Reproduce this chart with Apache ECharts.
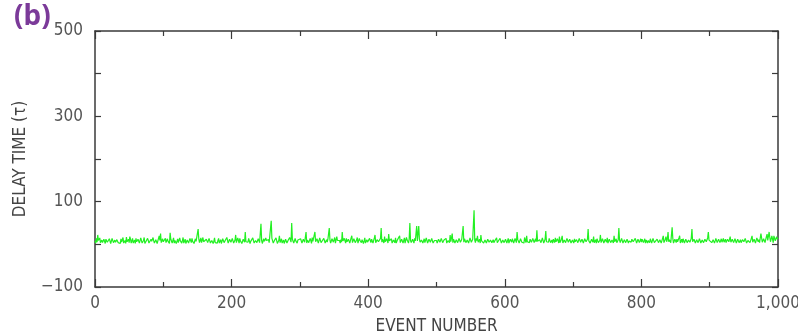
<!DOCTYPE html>
<html>
<head>
<meta charset="utf-8">
<script src="https://cdn.jsdelivr.net/npm/echarts@6/dist/echarts.min.js"></script>
<style>
  html, body { margin: 0; padding: 0; background: #fff; }
  #chart { width: 798px; height: 336px; }
</style>
</head>
<body>
<div id="chart"></div>
<script>
// Delay time for each event, events 0..1000 (one row per hundred events)
const delayTimes = [
  8,3,14,5,22,9,6,15,4,2,10,4,3,12,7,2,12,16,5,3, 4,13,9,2,6,14,15,4,3,10,5,2,11,14,4,6,8,2,13,5, 6,16,3,5,9,2,17,6,5,12,4,18,12,3,7,14,3,4,10,2, 14,6,5,12,8,3,4,15,11,3,6,9,16,2,3,8,7,14,9,3, 5,2,12,7,4,16,8,3,6,11,10,2,3,14,20,9,25,4,7,13,
  6,2,9,14,4,3,13,7,8,2,27,12,10,3,5,15,3,9,11,2, 7,13,4,2,15,8,6,3,9,16,3,5,12,2,5,10,8,3,4,14, 10,4,14,7,6,2,3,13,7,5,11,36,12,4,9,15,4,2,16,6, 8,3,3,12,10,4,6,14,13,3,5,9,11,2,7,15,4,6,7,3, 9,14,3,5,11,2,6,13,14,4,5,10,8,16,18,3,4,12,10,5,
  5,14,12,3,7,10,22,4,4,15,9,3,14,8,6,2,3,12,11,5, 29,6,8,3,5,14,13,2,7,10,4,15,16,3,6,9,10,4,3,13, 12,4,5,48,9,2,4,13,7,3,15,9,5,12,11,4,6,2,55,14, 14,3,4,10,8,15,12,2,5,9,20,4,7,13,3,6,10,2,6,12, 13,3,4,10,9,16,18,5,50,12,11,3,5,14,8,4,3,10,12,6,
  6,13,10,3,4,12,14,5,8,29,3,10,12,4,5,14,9,2,16,7, 4,11,29,6,7,13,11,3,6,15,13,4,3,9,8,14,15,3,5,11, 5,12,14,38,10,3,4,13,12,5,7,16,3,4,18,9,6,12,9,3, 11,5,29,8,5,14,8,3,14,6,4,12,10,3,6,15,20,4,3,13, 12,4,7,10,16,3,5,14,9,6,4,11,13,2,8,15,3,6,11,5,
  7,3,14,9,4,12,10,3,6,15,22,4,3,11,12,6,8,3,14,38, 5,12,11,3,18,6,4,13,9,3,24,8,6,12,13,3,3,10,10,4, 15,3,5,11,8,13,20,4,4,12,12,3,7,15,3,6,16,10,6,3, 13,50,9,4,4,12,11,3,14,8,9,43,8,5,43,12,5,3,10,14, 3,8,13,4,6,15,9,3,4,12,15,5,7,14,11,3,3,9,8,12,
  9,3,4,12,12,5,6,14,17,4,3,10,8,13,14,3,5,9,11,4, 22,6,7,25,4,12,13,3,6,11,10,4,3,14,15,5,8,12,12,43, 5,13,12,4,6,10,9,3,4,15,16,5,7,12,11,80,10,4,14,9, 20,5,6,12,3,22,8,4,11,3,4,10,7,3,3,12,9,5,5,10, 13,4,6,11,4,3,10,12,15,4,3,9,8,14,12,3,5,10,7,4,
  4,12,10,3,6,14,3,5,12,8,5,13,11,3,5,14,9,4,29,11, 7,3,4,13,13,5,9,2,3,16,16,4,20,6,10,3,4,12,12,5, 8,14,15,4,5,13,6,33,7,3,3,11,11,4,6,15,18,3,4,12, 31,6,9,3,5,14,13,4,7,10,3,12,10,4,15,6,4,13,8,3, 18,4,6,12,20,3,5,10,9,4,3,14,14,5,7,12,11,3,4,10,
  8,3,13,6,5,11,10,4,3,14,16,5,7,12,11,3,4,13,14,6, 6,12,36,8,9,3,4,12,12,5,18,4,7,11,3,13,10,4,3,9, 22,4,6,13,11,3,4,12,8,5,15,3,5,12,12,4,3,10,9,3, 20,6,7,13,4,3,10,38,10,4,6,14,13,3,3,11,11,4,5,12, 16,3,8,12,4,5,12,10,6,3,9,14,14,3,3,12,10,4,7,13,
  5,12,12,4,7,13,3,10,14,3,9,5,4,13,11,3,6,14,16,4, 8,3,3,12,13,4,5,11,10,3,7,14,20,4,4,12,18,6,12,29, 6,11,10,4,5,40,14,3,3,12,9,4,12,6,6,15,20,3,4,12, 4,13,11,3,7,12,15,4,3,10,10,5,8,14,36,6,5,12,13,3, 6,11,9,4,4,13,17,3,7,10,11,4,3,12,14,6,8,15,29,10,
  6,13,13,4,4,11,10,3,8,14,15,4,3,12,11,4,7,13,5,3, 14,5,9,12,4,3,12,10,6,4,18,5,3,12,10,4,7,13,13,3, 5,12,16,4,8,11,4,3,11,13,6,4,14,10,3,5,9,13,12,4, 7,14,20,5,5,12,10,3,4,15,15,6,11,4,8,25,22,5,6,13, 13,4,5,18,24,9,9,29,16,6,7,20,12,4,20,22,8,5,18,12,
  15
];
const xTickLabels = ['0', '200', '400', '600', '800', '1,000'];
const yLabelValues = [-100, 100, 300, 500];

// event number = position in the list
const seriesData = delayTimes.map((v, i) => [i, v]);

const tickFont = "'Liberation Sans Narrow', 'DejaVu Sans Condensed', 'Roboto', sans-serif";
const axisColor = '#3a3a3a';
const textColor = '#555';

const chart = echarts.init(document.getElementById('chart'), null, { renderer: 'canvas' });

const xCommon = {
  type: 'value', min: 0, max: 1000, interval: 200,
  axisLine: { show: true, onZero: false, lineStyle: { color: axisColor, width: 1.5 } },
  axisTick: { show: true, inside: true, length: 8, lineStyle: { color: axisColor, width: 1.2 } },
  minorTick: { show: true, splitNumber: 2, length: 5, lineStyle: { color: axisColor, width: 1.2 } },
  splitLine: { show: false }
};
const yCommon = {
  type: 'value', min: -100, max: 500, interval: 100,
  axisLine: { show: true, onZero: false, lineStyle: { color: axisColor, width: 1.5 } },
  axisTick: { show: true, inside: true, length: 6, lineStyle: { color: axisColor, width: 1.2 } },
  splitLine: { show: false }
};

chart.setOption({
  animation: false,
  backgroundColor: '#fff',
  title: {
    text: '(b)', left: 9, top: -2,
    textStyle: { color: '#7b3a99', fontSize: 28, fontWeight: 'bold', fontFamily: "'Noto Sans', sans-serif" }
  },
  grid: { left: 95, right: 20, top: 31, bottom: 49, outerBoundsMode: 'none', containLabel: false },
  xAxis: [
    Object.assign({}, xCommon, {
      position: 'bottom',
      name: 'EVENT NUMBER', nameLocation: 'middle', nameGap: 31,
      nameTextStyle: { color: '#444', fontSize: 17, fontFamily: tickFont },
      axisLabel: {
        color: textColor, fontSize: 17, fontFamily: tickFont, margin: 8,
        formatter: v => xTickLabels[Math.round(v / 200)] || ''
      }
    }),
    Object.assign({}, xCommon, { position: 'top', axisLabel: { show: false } })
  ],
  yAxis: [
    Object.assign({}, yCommon, {
      position: 'left',
      name: 'DELAY TIME (τ)', nameLocation: 'middle', nameGap: 66, nameRotate: 90,
      nameTextStyle: { color: '#444', fontSize: 17, fontFamily: tickFont },
      axisLabel: {
        color: textColor, fontSize: 17, fontFamily: tickFont, margin: 12,
        formatter: v => yLabelValues.includes(v) ? (v < 0 ? '\u2212' + Math.abs(v) : String(v)) : ''
      }
    }),
    Object.assign({}, yCommon, { position: 'right', axisLabel: { show: false } })
  ],
  series: [{
    type: 'line',
    data: seriesData,
    xAxisIndex: 0, yAxisIndex: 0,
    showSymbol: false,
    lineStyle: { color: '#22f022', width: 1.2 },
    emphasis: { disabled: true }
  }]
});
</script>
</body>
</html>
